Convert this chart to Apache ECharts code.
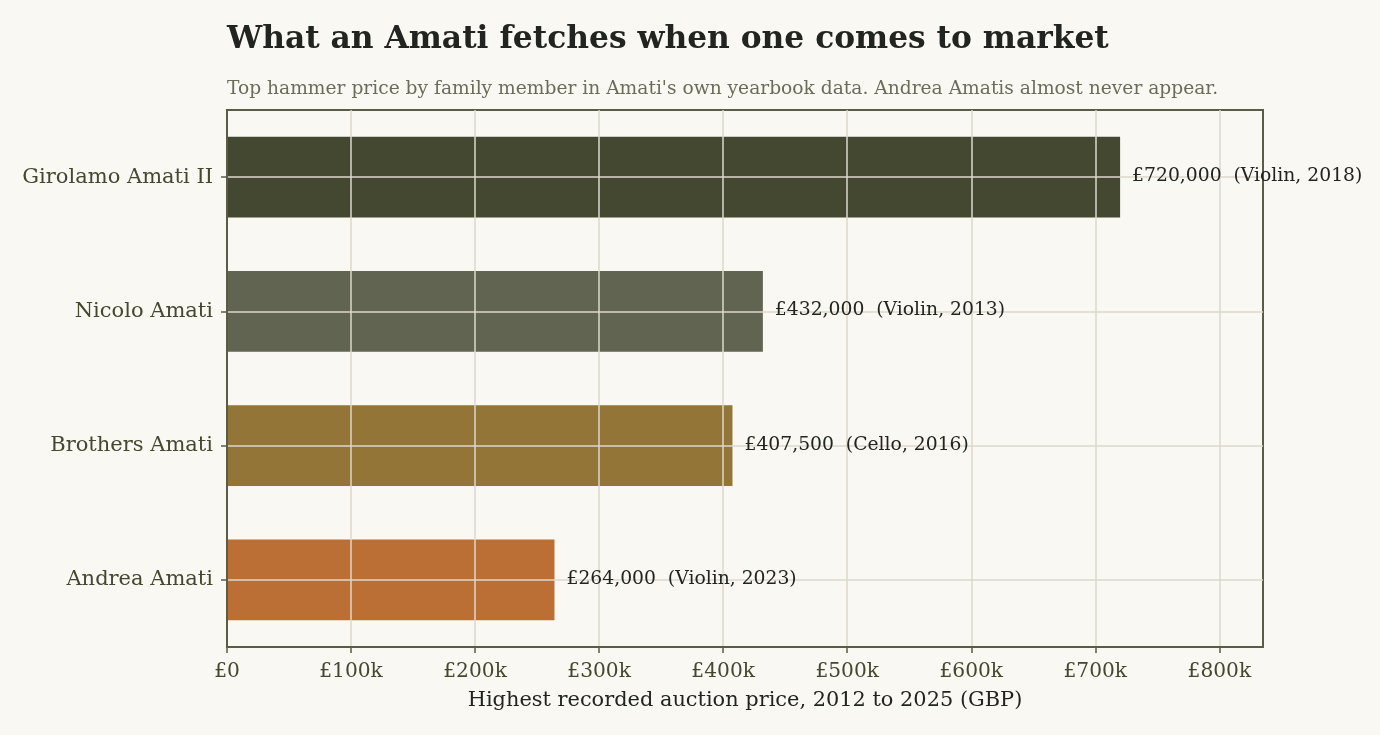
<!DOCTYPE html>
<html>
<head>
  <meta charset="utf-8">
  <title>Amati auction prices</title>
  <script src="https://cdn.jsdelivr.net/npm/echarts/dist/echarts.min.js"></script>
  <style>
    html, body { margin: 0; padding: 0; background: #f9f8f3; }
    #chart { width: 1380px; height: 735px; }
  </style>
</head>
<body>
  <div id="chart"></div>
  <script>
    // data, top to bottom
    const makers = ['Girolamo Amati II', 'Nicolo Amati', 'Brothers Amati', 'Andrea Amati'];
    const prices = [720000, 432000, 407500, 264000];
    const instruments = ['Violin', 'Violin', 'Cello', 'Violin'];
    const years = [2018, 2013, 2016, 2023];
    const barColors = ['#454830', '#616450', '#937538', '#bb6f35'];

    const serif = '"DejaVu Serif", serif';
    const fmtMoney = v => '£' + v.toLocaleString('en-GB');

    const chart = echarts.init(document.getElementById('chart'));
    chart.setOption({
      backgroundColor: '#f9f8f3',
      animation: false,
      title: [
        {
          text: 'What an Amati fetches when one comes to market',
          left: 222, top: 19,
          textStyle: { fontFamily: serif, fontSize: 31.3, fontWeight: 'bold', color: '#22241f' }
        },
        {
          text: "Top hammer price by family member in Amati's own yearbook data. Andrea Amatis almost never appear.",
          left: 222, top: 75,
          textStyle: { fontFamily: serif, fontSize: 18.65, fontWeight: 'normal', color: '#6b6c5c' }
        }
      ],
      grid: {
        left: 227, right: 117, top: 110, bottom: 88,
        show: true, borderColor: '#5a5c47', borderWidth: 2, backgroundColor: 'transparent'
      },
      xAxis: {
        type: 'value',
        min: 0,
        max: 835200,
        interval: 100000,
        z: 3,
        name: 'Highest recorded auction price, 2012 to 2025 (GBP)',
        nameLocation: 'middle',
        nameGap: 43,
        nameTextStyle: { fontFamily: serif, fontSize: 20.9, color: '#22241f' },
        axisLine: { show: true, lineStyle: { color: '#5a5c47', width: 2 } },
        axisTick: { show: true, length: 6, lineStyle: { color: '#5a5c47', width: 1.5 } },
        axisLabel: {
          fontFamily: serif, fontSize: 20.2, color: '#45472f', margin: 15,
          showMaxLabel: false,
          formatter: v => (v % 100000 !== 0 ? '' : v === 0 ? '£0' : '£' + v / 1000 + 'k')
        },
        splitLine: { show: true, showMinLine: false, showMaxLine: false, lineStyle: { color: '#dcd9cb', width: 1.5 } }
      },
      yAxis: {
        type: 'category',
        data: makers,
        inverse: true,
        z: 3,
        axisLine: { show: true, lineStyle: { color: '#5a5c47', width: 2 } },
        axisTick: { show: true, alignWithLabel: true, length: 6, lineStyle: { color: '#5a5c47', width: 1.5 } },
        axisLabel: { fontFamily: serif, fontSize: 21, color: '#45472f', margin: 14 },
        splitLine: { show: true, alignWithLabel: true, lineStyle: { color: '#dcd9cb', width: 1.5 } }
      },
      series: [
        {
          type: 'bar',
          z: 2,
          barCategoryGap: '40%',
          data: prices.map((v, i) => ({ value: v, itemStyle: { color: barColors[i] } }))
        },
        {
          // same bars, invisible, only to carry labels above the grid lines
          type: 'bar',
          z: 5,
          barGap: '-100%',
          barCategoryGap: '40%',
          itemStyle: { color: 'transparent' },
          data: prices,
          label: {
            show: true,
            position: 'right',
            distance: 12,
            offset: [0, -1],
            fontFamily: serif,
            fontSize: 18.75,
            color: '#22241f',
            formatter: p => fmtMoney(prices[p.dataIndex]) + '  (' + instruments[p.dataIndex] + ', ' + years[p.dataIndex] + ')'
          }
        }
      ]
    });
  </script>
</body>
</html>
